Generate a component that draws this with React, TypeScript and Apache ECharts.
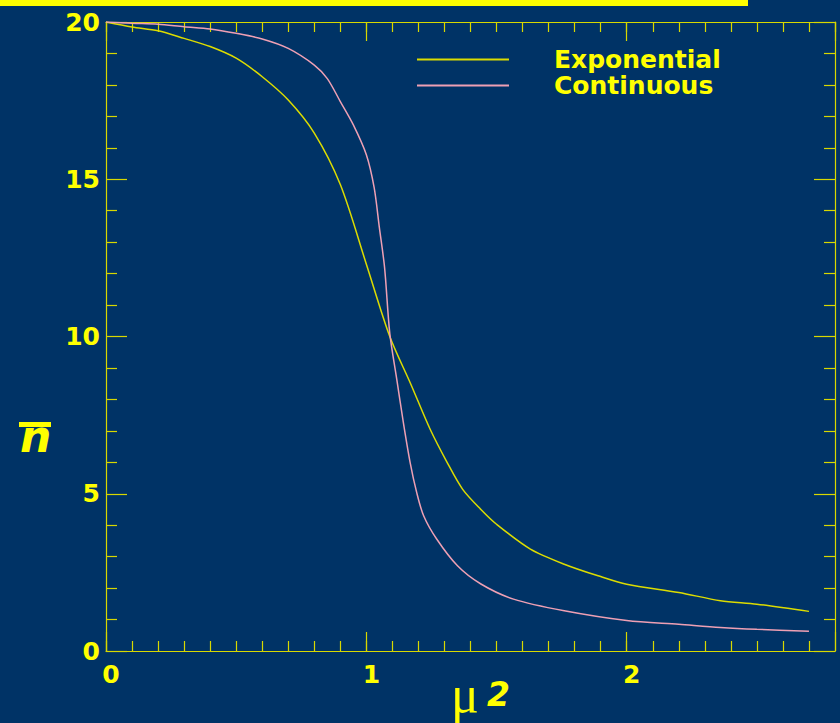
import React, { useEffect, useRef } from "react";
import * as echarts from "echarts";

const expX = [0, 0.1, 0.2, 0.3, 0.4, 0.5, 0.6, 0.7, 0.8, 0.9, 1.0, 1.09, 1.17, 1.245, 1.31, 1.37, 1.44, 1.5, 1.63, 1.76, 1.89, 2.0, 2.2, 2.36, 2.5, 2.7];
const expY = [20, 19.84, 19.72, 19.48, 19.22, 18.85, 18.26, 17.52, 16.47, 14.83, 12.3, 10.0, 8.5, 7.05, 6.0, 5.14, 4.5, 4.03, 3.24, 2.76, 2.39, 2.12, 1.86, 1.6, 1.49, 1.26];

const contX = [0, 0.1, 0.2, 0.3, 0.4, 0.5, 0.6, 0.7, 0.8, 0.85, 0.9, 0.95, 1.0, 1.03, 1.05, 1.07, 1.09, 1.117, 1.142, 1.168, 1.193, 1.22, 1.27, 1.35, 1.44, 1.565, 1.76, 2.0, 2.2, 2.36, 2.5, 2.7];
const contY = [20, 19.96, 19.93, 19.85, 19.78, 19.64, 19.46, 19.16, 18.63, 18.2, 17.47, 16.73, 15.78, 14.73, 13.46, 12.19, 10.1, 8.63, 7.27, 6.0, 5.05, 4.3, 3.56, 2.71, 2.13, 1.65, 1.28, 0.97, 0.85, 0.75, 0.69, 0.63];

const seriesNames = ["Exponential", "Continuous"];
const xTickLabels = ["0", "1", "2"];
const yTickLabels = ["0", "5", "10", "15", "20"];

const BG = "#003366";
const YEL = "#ffff00";
const AX = "#d8d800";
const EXP_C = "#dcdc00";
const CONT_C = "#eea0b4";
const FONT = "DejaVu Sans";

export default function App() {
  const ref = useRef<HTMLDivElement>(null);
  useEffect(() => {
    if (!ref.current) return;
    const chart = echarts.init(ref.current, null, { renderer: "svg" });
    const labelStyle = {
      color: YEL,
      fontFamily: FONT,
      fontWeight: "bold" as const,
      fontSize: 25,
    };
    const xBase = (position: string, interval: number, tickLen: number, showLabel: boolean, showLine: boolean) => ({
      type: "value",
      position,
      min: 0,
      max: 2.8,
      interval,
      gridIndex: 0,
      axisLine: { show: showLine, onZero: false, lineStyle: { color: AX, width: 1.2 } },
      axisTick: { show: true, inside: true, length: tickLen, lineStyle: { color: AX, width: 1.2 } },
      splitLine: { show: false },
      axisLabel: showLabel
        ? {
            show: true,
            ...labelStyle,
            margin: 11,
            showMaxLabel: false,
            padding: [0, 0, 0, 10],
            formatter: (v: number) => {
              const r = Math.round(v);
              return Math.abs(v - r) < 1e-6 && xTickLabels.includes(String(r)) ? String(r) : "";
            },
          }
        : { show: false },
    });
    const yBase = (position: string, showLabel: boolean) => ({
      type: "value",
      position,
      min: 0,
      max: 20,
      interval: 5,
      gridIndex: 0,
      axisLine: { show: true, onZero: false, lineStyle: { color: AX, width: 1.2 } },
      axisTick: { show: true, inside: true, length: 21, lineStyle: { color: AX, width: 1.2 } },
      minorTick: { show: true, splitNumber: 5, length: 11, lineStyle: { color: AX, width: 1.2 } },
      splitLine: { show: false },
      minorSplitLine: { show: false },
      axisLabel: showLabel
        ? {
            show: true,
            ...labelStyle,
            margin: 6,
            padding: [0, 0, 6, 0],
            formatter: (v: number) => (yTickLabels.includes(String(v)) ? String(v) : ""),
          }
        : { show: false },
    });

    const option = {
      animation: false,
      backgroundColor: BG,
      grid: { left: 106, right: 5, top: 22, bottom: 72, containLabel: false, outerBoundsMode: "none" },
      xAxis: [
        {
          ...xBase("bottom", 0.1, 10, true, true),
          name: "{mu|μ}{sub|2}",
          nameLocation: "middle",
          nameGap: 17,
          nameMoveOverlap: false,
          nameTextStyle: {
            rich: {
              mu: { fontFamily: "Liberation Serif", fontSize: 52, color: YEL, padding: [0, 0, 0, 20] },
              sub: { fontFamily: FONT, fontWeight: "bold", fontStyle: "italic", fontSize: 33, color: YEL, padding: [0, 0, 0, 8] },
            },
          },
        },
        xBase("bottom", 1, 19, false, false),
        xBase("top", 0.1, 10, false, true),
        xBase("top", 1, 19, false, false),
      ],
      yAxis: [yBase("left", true), yBase("right", false)],
      legend: {
        data: seriesNames,
        orient: "vertical",
        left: 412,
        top: 42,
        icon: "rect",
        itemWidth: 92,
        itemHeight: 2,
        itemGap: 1,
        textStyle: { ...labelStyle, lineHeight: 25, padding: [0, 0, 0, 40] },
      },
      graphic: [
        { type: "rect", shape: { x: 0, y: 0, width: 748, height: 6 }, style: { fill: YEL } },
        {
          type: "text",
          x: 20,
          y: 458,
          style: {
            text: "n",
            fill: YEL,
            font: `italic bold 44px "${FONT}"`,
            textVerticalAlign: "bottom",
          },
        },
        { type: "rect", shape: { x: 19, y: 422, width: 32, height: 5 }, style: { fill: YEL } },
      ],
      series: [
        {
          name: seriesNames[0],
          type: "line",
          xAxisIndex: 0,
          yAxisIndex: 0,
          data: expX.map((x, i) => [x, expY[i]]),
          showSymbol: false,
          smooth: 0.3,
          color: EXP_C,
          itemStyle: { color: EXP_C },
          lineStyle: { color: EXP_C, width: 1.5 },
        },
        {
          name: seriesNames[1],
          type: "line",
          xAxisIndex: 0,
          yAxisIndex: 0,
          data: contX.map((x, i) => [x, contY[i]]),
          showSymbol: false,
          smooth: 0.3,
          color: CONT_C,
          itemStyle: { color: CONT_C },
          lineStyle: { color: CONT_C, width: 1.5 },
        },
      ],
    };
    chart.setOption(option as any);
    return () => chart.dispose();
  }, []);
  return (
    <div
      ref={ref}
      style={{ position: "fixed", left: 0, top: 0, width: 840, height: 723 }}
    />
  );
}
